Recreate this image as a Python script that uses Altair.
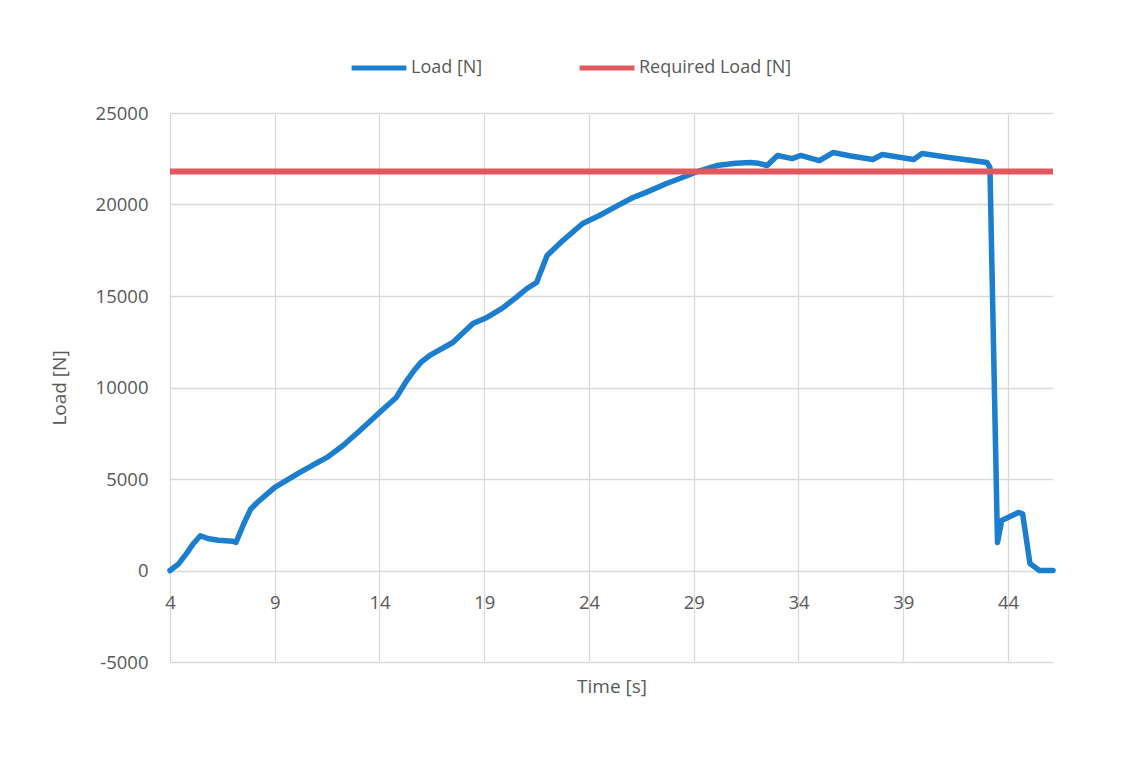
import altair as alt
import pandas as pd

# Load curve
time_s = [4.0, 4.4, 4.8, 5.1, 5.45, 5.8, 6.3, 7.0, 7.15, 7.5, 7.85, 8.15, 8.6, 9.0,
          9.6, 10.2, 10.8, 11.5, 12.26, 13.07, 14.0, 14.8, 15.3, 15.7, 16.0, 16.4,
          17.5, 18.46, 19.13, 19.85, 20.5, 21.04, 21.5, 22.0, 22.75, 23.7, 24.5,
          25.3, 26.1, 26.7, 27.7, 28.4, 29.06, 30.1, 31.0, 31.7, 32.1, 32.5, 33.0,
          33.7, 34.1, 35.0, 35.65, 36.5, 37.55, 38.0, 39.5, 39.9, 41.2, 43.0, 43.14,
          43.5, 43.7, 44.5, 44.7, 45.05, 45.5, 46.15]
load_n = [0, 350, 950, 1450, 1900, 1750, 1650, 1600, 1530, 2500, 3350, 3700, 4150, 4540,
          4950, 5360, 5750, 6180, 6830, 7650, 8630, 9450, 10380, 11000, 11400, 11750,
          12460, 13500, 13830, 14320, 14900, 15410, 15740, 17210, 18030, 18960, 19400,
          19900, 20380, 20650, 21150, 21450, 21750, 22130, 22250, 22300, 22250, 22130, 22680,
          22510, 22680, 22400, 22840, 22650, 22460, 22730, 22460, 22790, 22570, 22300, 22020,
          1530, 2730, 3170, 3100, 380, 0, 0]

required_load = 21800
required_time = [4.0, 46.15]

x_ticks = [4, 9, 14, 19, 24, 29, 34, 39, 44]
y_ticks = [-5000, 0, 5000, 10000, 15000, 20000, 25000]

series = ["Load [N]", "Required Load [N]"]
colors = ["#1C7ECF", "#E0595E"]

df_load = pd.DataFrame({"Time": time_s, "Value": load_n, "Series": series[0]})
df_req = pd.DataFrame({"Time": required_time, "Value": [required_load] * 2, "Series": series[1]})

FONT = "Open Sans"
GRAY = "#595959"

color = alt.Color(
    "Series:N",
    scale=alt.Scale(domain=series, range=colors),
    legend=alt.Legend(
        title=None, orient="none", direction="horizontal",
        legendX=179, legendY=-75,
        symbolType="stroke", symbolSize=3000, symbolStrokeWidth=5,
        labelFont=FONT, labelFontSize=18, labelColor=GRAY,
        labelOffset=2, columnPadding=86,
    ),
)

x = alt.X(
    "Time:Q",
    scale=alt.Scale(domain=[4, 46.15], nice=False, zero=False),
    axis=alt.Axis(
        values=x_ticks, title="Time [s]", offset=-91.5, domain=False, ticks=False,
        labelPadding=23, labelFont=FONT, labelFontSize=18.5, labelColor=GRAY,
        titleFont=FONT, titleFontSize=19, titleFontWeight="normal", titleColor=GRAY,
        titleBaseline="middle", titleY=116, format="d",
        grid=True, gridColor="#D9D9D9", gridWidth=1.3, labelFlush=False,
    ),
)
y = alt.Y(
    "Value:Q",
    scale=alt.Scale(domain=[-5000, 25000], nice=False),
    axis=alt.Axis(
        values=y_ticks, title="Load [N]", domain=False, ticks=False,
        labelPadding=22, labelFont=FONT, labelFontSize=18.5, labelColor=GRAY,
        labelExpr="replace(format(datum.value, 'd'), '−', '-')",
        titleFont=FONT, titleFontSize=19, titleFontWeight="normal", titleColor=GRAY,
        titlePadding=26, grid=True, gridColor="#D9D9D9", gridWidth=1.3,
    ),
)

load_line = alt.Chart(df_load).mark_line(
    strokeWidth=5.5, strokeCap="round", strokeJoin="round"
).encode(x=x, y=y, color=color)

req_line = alt.Chart(df_req).mark_line(strokeWidth=6).encode(x=x, y=y, color=color)

chart = alt.layer(load_line, req_line).properties(
    width=883, height=549,
    padding={"left": 162, "top": 105, "right": 65, "bottom": 93},
    autosize=alt.AutoSizeParams(type="none"),
    background="white",
).configure_view(stroke=None)

chart.save("out.html", embed_options={"renderer": "svg", "actions": False})
